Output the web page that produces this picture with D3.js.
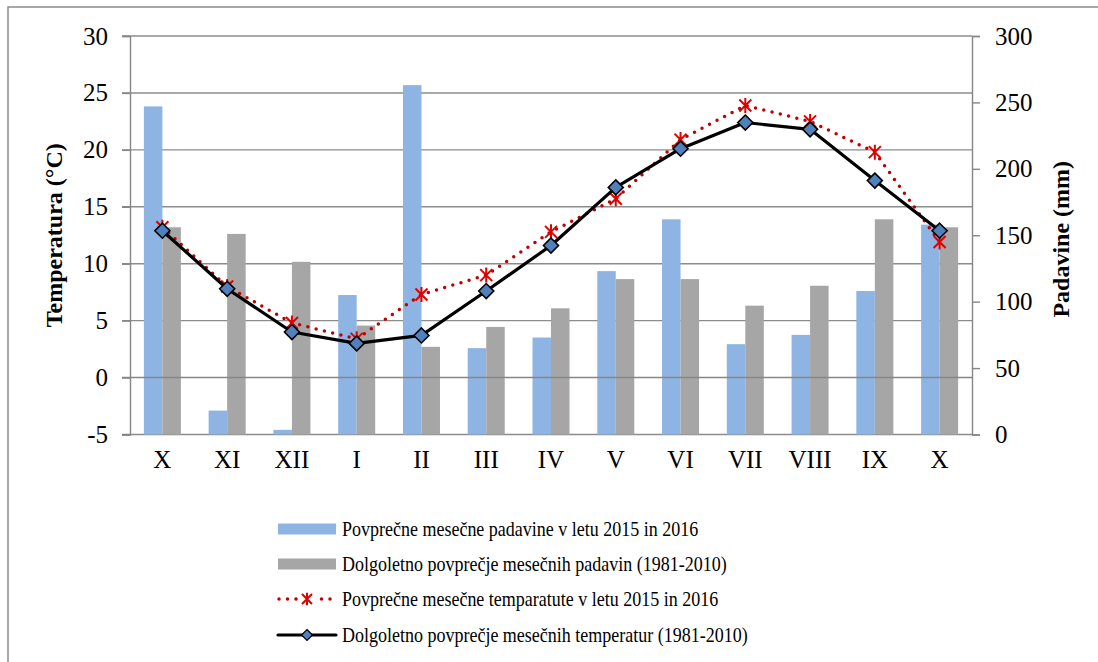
<!DOCTYPE html>
<html><head><meta charset="utf-8">
<script src="https://cdn.jsdelivr.net/npm/d3@7/dist/d3.min.js"></script>
<style>body{margin:0;background:#fff}svg{display:block}text{font-family:"Liberation Serif","Times New Roman",serif;fill:#000}</style>
</head><body>
<svg id="c" width="1098" height="662"></svg>
<script>
const categories = ["X","XI","XII","I","II","III","IV","V","VI","VII","VIII","IX","X"];
const precip2016 = [247, 18, 3.5, 105, 263, 65, 73, 123, 162, 68, 75, 108, 158];
const precipLong = [156, 151, 130, 82, 66, 81, 95, 117, 117, 97, 112, 162, 156];
const temp2016 = [13.2, 8.0, 4.8, 3.4, 7.3, 9.0, 12.8, 15.7, 20.9, 23.9, 22.5, 19.8, 11.9];
const tempLong = [12.9, 7.8, 4.0, 3.0, 3.7, 7.6, 11.6, 16.7, 20.1, 22.4, 21.8, 17.3, 12.9];
const leftTicks = [-5, 0, 5, 10, 15, 20, 25, 30];
const rightTicks = [0, 50, 100, 150, 200, 250, 300];
const legendLabels = [
  "Povprečne mesečne padavine v letu 2015 in 2016",
  "Dolgoletno povprečje mesečnih padavin (1981-2010)",
  "Povprečne mesečne temparatute v letu 2015 in 2016",
  "Dolgoletno povprečje mesečnih temperatur (1981-2010)"
];

const svg = d3.select("#c");
const L = 130, R = 972, T = 36, B = 434.5;
const idx = categories.map((d,i)=>i);
const x = d3.scaleBand().domain(idx).range([L, R]).padding(0);
const yT = d3.scaleLinear().domain([-5, 30]).range([B, T]);
const yP = d3.scaleLinear().domain([0, 300]).range([B, T]);
const bw = x.bandwidth() / 1.75 / 2;
const cx = i => x(i) + x.bandwidth() / 2;

// outer frame
svg.append("rect").attr("x", 8).attr("y", 7).attr("width", 1200).attr("height", 800)
  .attr("fill", "none").attr("stroke", "#8c8c8c").attr("stroke-width", 1.5);

// gridlines
svg.append("g").selectAll("line").data(leftTicks.filter(d => d !== 0)).join("line")
  .attr("x1", L - 8).attr("x2", R).attr("y1", d => yT(d)).attr("y2", d => yT(d))
  .attr("stroke", "#8c8c8c").attr("stroke-width", 1.4);

// bars
svg.append("g").selectAll("rect").data(precip2016).join("rect")
  .attr("x", (d,i) => cx(i) - bw).attr("width", bw).attr("y", d => yP(d)).attr("height", d => B - yP(d))
  .attr("fill", "#8EB4E3");
svg.append("g").selectAll("rect").data(precipLong).join("rect")
  .attr("x", (d,i) => cx(i)).attr("width", bw).attr("y", d => yP(d)).attr("height", d => B - yP(d))
  .attr("fill", "#A6A6A6");

// zero line (category axis) on top
svg.append("line").attr("x1", L - 8).attr("x2", R).attr("y1", yT(0)).attr("y2", yT(0))
  .attr("stroke", "#868686").attr("stroke-width", 1.4);

// axes
const axL = svg.append("g").attr("transform", `translate(${L},0)`)
  .call(d3.axisLeft(yT).tickValues(leftTicks).tickFormat(d => String(d)).tickSize(8).tickPadding(14));
const axR = svg.append("g").attr("transform", `translate(${R},0)`)
  .call(d3.axisRight(yP).tickValues(rightTicks).tickFormat(d => String(d)).tickSize(8).tickPadding(15));
[axL, axR].forEach(a => {
  a.select(".domain").attr("stroke", "#868686").attr("stroke-width", 1.4);
  a.selectAll(".tick line").attr("stroke", "#868686").attr("stroke-width", 1.4);
  a.selectAll(".tick text").attr("font-size", 25).attr("font-family", "Liberation Serif").attr("fill", "#000");
});
const axB = svg.append("g").attr("transform", `translate(0,${B})`)
  .call(d3.axisBottom(x).tickFormat(i => categories[i]).tickSize(0).tickPadding(16));
axB.select(".domain").remove();
axB.selectAll(".tick text").attr("font-size", 25).attr("font-family", "Liberation Serif").attr("fill", "#000");

// axis titles
svg.append("text").attr("transform", `translate(54,${(T+B)/2}) rotate(-90)`)
  .attr("text-anchor", "middle").attr("dy", "0.35em").attr("font-size", 24).attr("font-weight", "bold")
  .text("Temperatura (°C)");
svg.append("text").attr("transform", `translate(1061,${(T+B)/2 + 4}) rotate(-90)`)
  .attr("text-anchor", "middle").attr("dy", "0.35em").attr("font-size", 24).attr("font-weight", "bold")
  .text("Padavine (mm)");

// lines
const lineT = d3.line().x((d,i) => cx(i)).y(d => yT(d));
svg.append("path").datum(temp2016).attr("d", lineT).attr("fill", "none")
  .attr("stroke", "#C00000").attr("stroke-width", 3.5).attr("stroke-linecap", "round").attr("stroke-dasharray", "0 8.5");
const star = (g, s) => {
  g.append("path").attr("d", `M${-s},${-s}L${s},${s}M${-s},${s}L${s},${-s}M0,${-s*1.25}L0,${s*1.25}`)
    .attr("stroke", "#E00000").attr("stroke-width", 2).attr("fill", "none");
};
svg.append("g").selectAll("g").data(temp2016).join("g")
  .attr("transform", (d,i) => `translate(${cx(i)},${yT(d)})`).each(function(){ star(d3.select(this), 6); });

svg.append("path").datum(tempLong).attr("d", lineT).attr("fill", "none")
  .attr("stroke", "#000").attr("stroke-width", 3.2).attr("stroke-linejoin", "round");
const diamond = s => `M0,${-s}L${s},0L0,${s}L${-s},0Z`;
svg.append("g").selectAll("path").data(tempLong).join("path")
  .attr("transform", (d,i) => `translate(${cx(i)},${yT(d)})`).attr("d", diamond(7.5))
  .attr("fill", "#4F81BD").attr("stroke", "#000").attr("stroke-width", 1.6);

// legend
const lx0 = 278, lx1 = 336, ly = [529, 564, 599, 635];
const lg = svg.append("g");
lg.append("rect").attr("x", lx0).attr("y", ly[0] - 5.5).attr("width", lx1 - lx0).attr("height", 11).attr("fill", "#8EB4E3");
lg.append("rect").attr("x", lx0).attr("y", ly[1] - 5.5).attr("width", lx1 - lx0).attr("height", 11).attr("fill", "#A6A6A6");
lg.append("line").attr("x1", lx0 + 1).attr("x2", lx1).attr("y1", ly[2]).attr("y2", ly[2])
  .attr("stroke", "#C00000").attr("stroke-width", 3.5).attr("stroke-linecap", "round").attr("stroke-dasharray", "0 8.5");
lg.append("rect").attr("x", (lx0+lx1)/2 - 8).attr("y", ly[2] - 7).attr("width", 16).attr("height", 14).attr("fill", "#fff");
star(lg.append("g").attr("transform", `translate(${(lx0+lx1)/2},${ly[2]})`), 5);
lg.append("line").attr("x1", lx0).attr("x2", lx1).attr("y1", ly[3]).attr("y2", ly[3])
  .attr("stroke", "#000").attr("stroke-width", 3.2).attr("stroke-linecap", "round");
lg.append("path").attr("transform", `translate(${(lx0+lx1)/2},${ly[3]})`).attr("d", diamond(5.5))
  .attr("fill", "#4F81BD").attr("stroke", "#000").attr("stroke-width", 1.2);
lg.append("g").attr("transform", "translate(342,0) scale(0.9,1)")
  .selectAll("text").data(legendLabels).join("text")
  .attr("x", 0).attr("y", (d,i) => ly[i]).attr("dy", "0.35em").attr("font-size", 20).text(d => d);
</script>
</body></html>
